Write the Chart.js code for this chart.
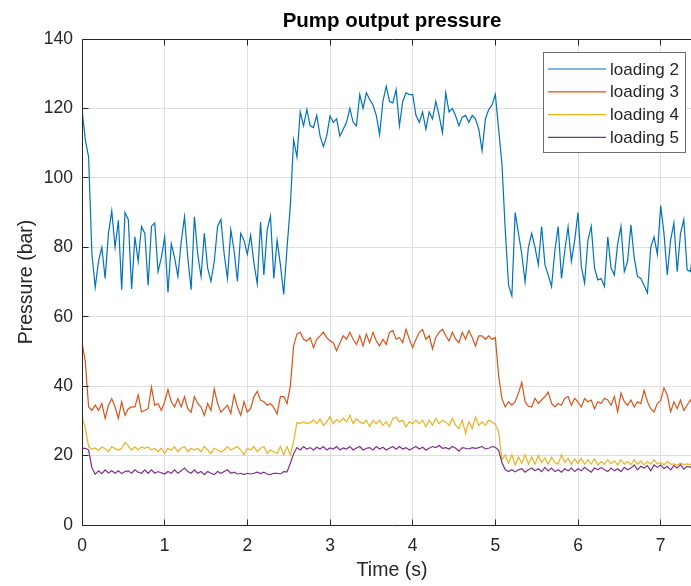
<!DOCTYPE html>
<html>
<head>
<meta charset="utf-8">
<title>Pump output pressure</title>
<script src="https://cdn.jsdelivr.net/npm/chart.js@4.4.0/dist/chart.umd.min.js"></script>
<style>
  html, body { margin: 0; padding: 0; background: #fff; overflow: hidden; }
  #wrap { width: 720px; height: 586px; }
</style>
</head>
<body>
<div id="wrap"><canvas id="pumpChart" width="720" height="586"></canvas></div>
<script>
// ---- Data ----
const time = [
  0, 0.04, 0.08, 0.12, 0.16, 0.2, 0.24, 0.28, 0.32, 0.36, 0.4, 0.44, 0.48, 0.52, 0.56, 0.6, 0.64, 0.68, 0.72, 0.76, 0.8, 0.84, 0.88, 0.92, 0.96,
  1, 1.04, 1.08, 1.12, 1.16, 1.2, 1.24, 1.28, 1.32, 1.36, 1.4, 1.44, 1.48, 1.52, 1.56, 1.6, 1.64, 1.68, 1.72, 1.76, 1.8, 1.84, 1.88, 1.92, 1.96,
  2, 2.04, 2.08, 2.12, 2.16, 2.2, 2.24, 2.28, 2.32, 2.36, 2.4, 2.44, 2.48, 2.52, 2.56, 2.6, 2.64, 2.68, 2.72, 2.76, 2.8, 2.84, 2.88, 2.92, 2.96,
  3, 3.04, 3.08, 3.12, 3.16, 3.2, 3.24, 3.28, 3.32, 3.36, 3.4, 3.44, 3.48, 3.52, 3.56, 3.6, 3.64, 3.68, 3.72, 3.76, 3.8, 3.84, 3.88, 3.92, 3.96,
  4, 4.04, 4.08, 4.12, 4.16, 4.2, 4.24, 4.28, 4.32, 4.36, 4.4, 4.44, 4.48, 4.52, 4.56, 4.6, 4.64, 4.68, 4.72, 4.76, 4.8, 4.84, 4.88, 4.92, 4.96,
  5, 5.04, 5.08, 5.12, 5.16, 5.2, 5.24, 5.28, 5.32, 5.36, 5.4, 5.44, 5.48, 5.52, 5.56, 5.6, 5.64, 5.68, 5.72, 5.76, 5.8, 5.84, 5.88, 5.92, 5.96,
  6, 6.04, 6.08, 6.12, 6.16, 6.2, 6.24, 6.28, 6.32, 6.36, 6.4, 6.44, 6.48, 6.52, 6.56, 6.6, 6.64, 6.68, 6.72, 6.76, 6.8, 6.84, 6.88, 6.92, 6.96,
  7, 7.04, 7.08, 7.12, 7.16, 7.2, 7.24, 7.28, 7.32, 7.36, 7.4, 7.44, 7.48
];

const loading2 = [
  119.7, 111, 106, 78, 68.5, 76, 80, 71, 84, 90.5, 80, 87.8, 67.8, 90, 88, 68, 83, 76, 86, 84, 69, 86, 87, 73, 77,
  83, 67, 81, 77, 71.6, 81.6, 88.8, 77, 67.8, 88.8, 78, 71.6, 84, 74, 70.2, 75.9, 86, 88, 78, 71, 85, 79, 70.2, 84, 82,
  78, 83.5, 75.4, 69.5, 87.3, 72, 85, 89, 71, 82, 75, 66.4, 79.7, 92, 111, 106, 119, 115, 119.7, 115, 114.5, 118, 112, 109, 112,
  117.8, 116, 117, 112, 114, 116, 120, 116, 115, 124, 120, 124.5, 122.6, 121, 118, 112.5, 122, 126.4, 122, 121.6, 125.4, 115, 122, 124.5, 124,
  124, 118, 116, 119, 114, 119, 117, 122, 118, 113, 124.5, 119, 120, 117.8, 115, 117.5, 118, 116, 118, 117, 114, 107.8, 117, 119.7, 121,
  124, 114, 104, 85, 69, 66, 90, 84, 78, 70, 80, 84, 80, 75, 86, 75, 72, 68.7, 79, 86, 71, 79, 85.9, 76, 82,
  90, 74.5, 69.7, 82, 86, 74, 70.6, 71, 68.7, 83, 74, 72, 81, 86, 73, 76, 86.5, 77, 71.6, 71, 69, 66.8, 80, 83, 78,
  92, 84, 72, 82, 87, 73, 84, 88, 73.5, 73, 80, 72, 84
];

const loading3 = [
  52.6, 47, 34, 33, 34.5, 33, 35, 30.7, 34.5, 36.4, 34, 30.7, 35.5, 31.6, 33.5, 34, 34, 37.5, 32.6, 33, 33.5, 39.7, 34.5, 35, 33,
  35.5, 39, 35.5, 34, 36.4, 34, 37, 33.5, 32.5, 37, 35, 34, 31.6, 35, 33, 39.2, 35, 32.5, 33.5, 34.5, 32.1, 37.5, 34, 31.6, 35.5,
  32.5, 33.5, 37, 38.5, 35.9, 35.5, 34.5, 35, 33.8, 32, 37, 37, 35, 40, 51.6, 55, 55.5, 53.5, 53, 54, 51.1, 53.5, 54.5, 55.5, 54,
  53, 52.5, 50.2, 52.5, 54.5, 53.5, 55.5, 53.5, 52, 54.5, 51.6, 55, 52.5, 55.5, 53, 51.6, 53.5, 52, 55.5, 56, 53.5, 54, 52.5, 56.4, 53.5,
  51.1, 53.5, 55.5, 56.3, 53.5, 54.5, 50.7, 54, 55.5, 56.4, 54.5, 53, 55.5, 53.5, 52.5, 55.5, 53.5, 56, 54, 51.6, 54.5, 54.5, 53.5, 54.5, 53.5,
  54, 43, 36.4, 34, 35.5, 34.5, 35.5, 38, 41.1, 35.5, 34.2, 34, 36.5, 35, 36, 37, 38.3, 35, 34, 35, 34.5, 36.5, 37, 34.5, 36.5,
  35.5, 34, 36.4, 35.5, 36, 33.5, 35.5, 35, 36.5, 36, 34.5, 37, 32.6, 38, 35.5, 34.5, 36, 34, 35.5, 35, 38.8, 35.5, 33.5, 32.6, 35,
  35.8, 39.5, 37.5, 32.6, 35.5, 33.5, 36, 33, 34.5, 36, 34, 35, 34.5
];

const loading4 = [
  31.1, 28, 22.6, 21.9, 22.2, 21.5, 22.5, 22, 21.1, 22.6, 22, 21.6, 22.1, 23.8, 22.8, 21.6, 22.5, 21.6, 22.5, 22.1, 22.5, 21.6, 22.1, 21.1, 22.1,
  20.6, 22.1, 21.6, 22.5, 21.1, 22.1, 22.6, 21.1, 22.1, 21.6, 22.1, 21.1, 22.6, 21.6, 20.6, 22.1, 21.6, 21.1, 21.6, 22.6, 21.6, 22.1, 22.6, 21.6, 20.2,
  22.1, 21.6, 22.6, 21.1, 22.1, 22.6, 20.6, 21.6, 21.1, 20.6, 22.6, 20.2, 22.6, 20.2, 24, 29.5, 29.2, 29.7, 29.2, 29.5, 30.2, 29.2, 30.5, 28.7, 29.7,
  31.1, 29.2, 30.4, 29.7, 30.8, 29.7, 31.6, 29.2, 30.6, 29.7, 29.2, 30.2, 28.3, 30.2, 29.2, 30.2, 28.7, 29.7, 28.3, 30.7, 31.1, 29.7, 30.2, 28.3, 29.7,
  29.2, 30.2, 29.2, 30.2, 28.3, 30.2, 28.7, 30.7, 29.2, 30.2, 29.7, 28.7, 30.7, 28.7, 27.8, 30.2, 26.4, 29.7, 27.8, 31.1, 28.7, 29.7, 28.7, 30.2, 29.7,
  29, 26.8, 18.8, 20.2, 17.8, 20.2, 17.3, 19.6, 17.8, 20.2, 17.5, 19.6, 17.5, 20, 18, 19.3, 17.5, 19.5, 18, 17.5, 20.2, 18, 19.2, 17.5, 19,
  17.8, 19.2, 17.5, 18.8, 17.5, 19, 17.3, 18.3, 17.5, 18.8, 17.6, 18.5, 17.3, 18.8, 17.5, 18.3, 17.4, 18.8, 17.5, 18.4, 17.3, 18.2, 17.5, 18.8, 17.6,
  18, 17.3, 18.3, 17.5, 17.6, 17.2, 17.8, 17.4, 17.6, 17.4, 17.8, 17.3, 17.6
];

const loading5 = [
  22.1, 22.1, 21.6, 16.5, 14.6, 15.6, 14.8, 15.9, 15, 15.6, 14.9, 15.6, 14.8, 15.4, 15.6, 14.9, 15.9, 15.2, 14.9, 15.9, 14.9, 15.9, 14.9, 15.4, 15,
  14.7, 15.4, 14.9, 15.9, 14.9, 15.6, 16.4, 15.4, 14.9, 15.9, 14.9, 15.4, 14.5, 15.4, 14.9, 14.5, 15.4, 14.9, 15.4, 15.9, 14.9, 15.2, 14.7, 14.9, 14.5,
  14.9, 14.7, 14.9, 15.2, 14.8, 15.2, 14.7, 14.5, 14.9, 14.9, 14.7, 15.4, 15.3, 17.8, 20.5, 22.3, 21.6, 22.6, 21.8, 22.3, 21.6, 22.4, 21.9, 22.6, 21.6,
  22.2, 21.9, 22.6, 21.6, 22.2, 21.9, 22.6, 21.6, 22.2, 22.6, 21.6, 22.1, 22.3, 21.6, 22.6, 21.9, 22.4, 21.6, 22.1, 22.6, 21.8, 22.6, 21.9, 22.3, 21.6,
  22.1, 22.6, 21.9, 22.4, 21.6, 22.1, 22.6, 22.3, 22.9, 22.1, 22.3, 21.9, 22.6, 22.1, 21.3, 22.3, 22.1, 21.9, 22.3, 22.1, 22.3, 22.6, 21.9, 22.1, 22.6,
  22.4, 21.5, 18, 15.9, 15.4, 15.9, 15.3, 15.9, 16.2, 15.2, 15.9, 16.4, 15.6, 16.2, 15.4, 16.6, 15.6, 16.4, 15.4, 15.9, 15.2, 16.2, 15.6, 16.4, 15.4,
  16.2, 15.6, 16.6, 15.9, 15.2, 16.4, 15.9, 16.6, 15.9, 15.4, 16.4, 15.6, 16.2, 15.4, 16.6, 15.9, 16.4, 17.3, 15.9, 16.9, 16.4, 17.1, 15.6, 17.3, 16.6,
  17.3, 16.2, 16.9, 15.9, 17.1, 16.4, 17.4, 16.1, 16.9, 16.6, 17, 16.4, 16.8
];

const seriesNames = ['loading 2', 'loading 3', 'loading 4', 'loading 5'];
const seriesColors = ['#0072BD', '#D95319', '#EDB120', '#7E2F8E'];

// ---- Styling ----
const FONT = '"Liberation Sans", Arial, Helvetica, sans-serif';
const AXIS_COLOR = '#262626';
const GRID_COLOR = '#dedede';
const TICK_LEN = 6;

const toPoints = vals => vals.map((v, i) => ({ x: time[i], y: v }));

// MATLAB-like box: dark frame, inward ticks, title and legend inside the axes
const matlabAxes = {
  id: 'matlabAxes',
  afterDatasetsDraw(chart) {
    const { ctx, chartArea: a, scales: { x, y } } = chart;
    const al = p => Math.round(p - 0.5) + 0.5;
    ctx.save();
    ctx.strokeStyle = AXIS_COLOR;
    ctx.lineWidth = 1;
    ctx.beginPath();
    x.ticks.forEach(t => {
      const px = al(x.getPixelForValue(t.value));
      ctx.moveTo(px, al(a.bottom)); ctx.lineTo(px, al(a.bottom) - TICK_LEN);
      ctx.moveTo(px, al(a.top)); ctx.lineTo(px, al(a.top) + TICK_LEN);
    });
    y.ticks.forEach(t => {
      const py = al(y.getPixelForValue(t.value));
      ctx.moveTo(al(a.left), py); ctx.lineTo(al(a.left) + TICK_LEN, py);
      ctx.moveTo(al(a.right), py); ctx.lineTo(al(a.right) - TICK_LEN, py);
    });
    ctx.rect(al(a.left), al(a.top), al(a.right) - al(a.left), al(a.bottom) - al(a.top));
    ctx.stroke();
    ctx.restore();
  },
  afterDraw(chart) {
    const { ctx, chartArea: a } = chart;
    ctx.save();
    // title
    ctx.fillStyle = '#000';
    ctx.font = `bold 20.5px ${FONT}`;
    ctx.textAlign = 'center';
    ctx.textBaseline = 'alphabetic';
    ctx.fillText('Pump output pressure', (a.left + a.right) / 2, 27);

    // legend
    const bx = 543, by = 52, bw = 142, bh = 100, rowH = 22.8;
    ctx.fillStyle = '#fff';
    ctx.fillRect(bx, by, bw, bh);
    ctx.strokeStyle = '#6e6e6e';
    ctx.lineWidth = 1;
    ctx.strokeRect(bx + 0.5, by + 0.5, bw, bh);
    ctx.font = `17px ${FONT}`;
    ctx.textAlign = 'left';
    ctx.textBaseline = 'middle';
    chart.data.datasets.forEach((ds, i) => {
      const ry = by + 17 + i * rowH;
      ctx.strokeStyle = ds.borderColor;
      ctx.lineWidth = 1.2;
      ctx.beginPath();
      ctx.moveTo(bx + 5, ry); ctx.lineTo(bx + 63, ry);
      ctx.stroke();
      ctx.fillStyle = AXIS_COLOR;
      ctx.fillText(ds.label, bx + 67, ry + 1);
    });
    ctx.restore();
  }
};

const allSeries = [loading2, loading3, loading4, loading5];
const datasets = allSeries.map((vals, i) => ({
  label: seriesNames[i],
  data: toPoints(vals),
  borderColor: seriesColors[i],
  borderWidth: 1.2,
  pointRadius: 0,
  tension: 0,
  fill: false,
  order: allSeries.length - i
}));

const tickFont = { family: FONT, size: 17.5 };
const labelFont = { family: FONT, size: 19.5 };

new Chart(document.getElementById('pumpChart'), {
  type: 'line',
  data: { datasets },
  options: {
    responsive: false,
    animation: false,
    devicePixelRatio: 1,
    layout: { padding: { left: 0, top: 39, right: 18, bottom: 0 } },
    scales: {
      x: {
        type: 'linear',
        min: 0, max: 7.5,
        ticks: { stepSize: 1, includeBounds: false, color: AXIS_COLOR, font: tickFont, padding: 10.5, maxRotation: 0 },
        grid: { color: GRID_COLOR, drawTicks: false },
        border: { display: false },
        title: { display: true, text: 'Time (s)', color: AXIS_COLOR, font: labelFont, padding: { top: 0, bottom: 4 } },
        afterFit: s => { s.height = 61; }
      },
      y: {
        min: 0, max: 140,
        ticks: { stepSize: 20, color: AXIS_COLOR, font: tickFont, padding: 9 },
        grid: { color: GRID_COLOR, drawTicks: false },
        border: { display: false },
        title: { display: true, text: 'Pressure (bar)', color: AXIS_COLOR, font: labelFont, padding: { top: 15, bottom: 0 } },
        afterFit: s => { s.width = 82; }
      }
    },
    plugins: {
      legend: { display: false },
      tooltip: { enabled: false }
    }
  },
  plugins: [matlabAxes]
});
</script>
</body>
</html>
